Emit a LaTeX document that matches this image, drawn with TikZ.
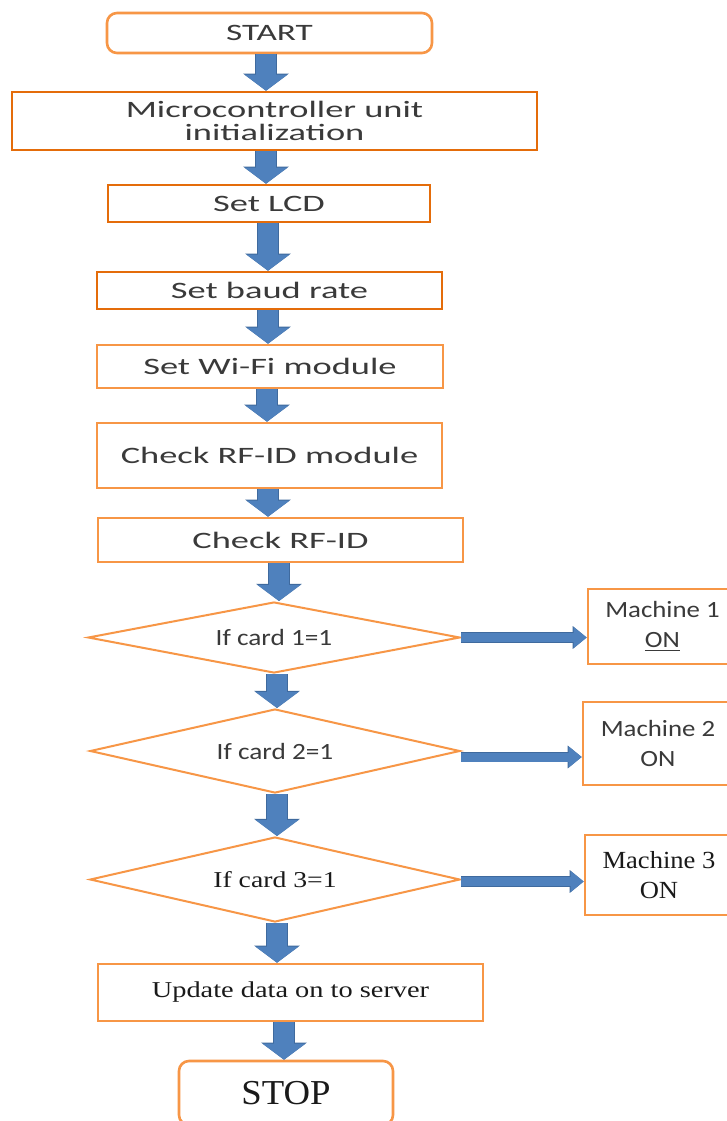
\documentclass[tikz,border=0pt]{standalone}
\usepackage{fontspec}
\usepackage{graphicx}
\setmainfont{Carlito}
\newfontfamily\tms{Liberation Serif}
\usetikzlibrary{shapes.geometric,arrows.meta}
\definecolor{lorange}{HTML}{F79646}
\definecolor{dorange}{HTML}{E46C0A}
\definecolor{ablue}{HTML}{4F81BD}
\definecolor{aline}{HTML}{3F6A9E}
\definecolor{tgray}{HTML}{3A3A3A}
\definecolor{tblack}{HTML}{1A1A1A}
\newcommand{\sx}[2]{\scalebox{#1}[1]{#2}}
\tikzset{
  basebox/.style={rectangle, inner sep=0pt, line width=1.3pt, fill=white, align=center},
  lightbox/.style={basebox, draw=lorange},
  darkbox/.style={basebox, draw=dorange},
  termbox/.style={basebox, draw=lorange, rounded corners=5pt},
  decbox/.style={diamond, draw=lorange, line width=1pt, inner sep=0pt, fill=white},
  bxtext/.style={font=\fontsize{11.75pt}{11.5pt}\selectfont, text=tgray},
  mctext/.style={font=\fontsize{11.65pt}{15pt}\selectfont, text=tgray},
  tmtext/.style={font=\tms\fontsize{11.35pt}{15pt}\selectfont, text=tblack},
  varrow/.style={draw=ablue, line width=10pt, -{Triangle[width=21pt,length=8pt]},
     preaction={draw=aline, line width=10.8pt, -{Triangle[width=22.5pt,length=8.6pt]}}},
  harrow/.style={draw=ablue, line width=4.5pt, -{Triangle[width=10pt,length=6.5pt]},
     preaction={draw=aline, line width=5.2pt, -{Triangle[width=11pt,length=7pt]}}}
}
\begin{document}
\begin{tikzpicture}[x=0.5pt,y=-0.5pt]
\clip (0,0) rectangle (727,1121);
\fill[white] (0,0) rectangle (727,1121);
% nodes
\node[termbox, bxtext, minimum width=162.5pt, minimum height=20pt] (start) at (269.5,33) {\sx{1.5}{START}};
\node[darkbox, bxtext, minimum width=262.5pt, minimum height=29pt] (micro) at (274.5,121) {\sx{1.55}{Microcontroller unit}\\\sx{1.55}{initialization}};
\node[darkbox, bxtext, minimum width=161pt, minimum height=18.5pt] (lcd) at (269,203.5) {\sx{1.55}{Set LCD}};
\node[darkbox, bxtext, minimum width=172.5pt, minimum height=18.5pt] (baud) at (269.5,290.5) {\sx{1.55}{Set baud rate}};
\node[lightbox, bxtext, minimum width=173pt, minimum height=21.5pt] (wifi) at (270,366.5) {\sx{1.55}{Set Wi-Fi module}};
\node[lightbox, bxtext, minimum width=172.5pt, minimum height=32.5pt] (rfmod) at (269.5,455.5) {\sx{1.55}{Check RF-ID module}};
\node[lightbox, bxtext, minimum width=182.5pt, minimum height=22pt] (rfid) at (280.5,540) {\sx{1.55}{Check RF-ID}};
\node[decbox, mctext, aspect=5.3, minimum width=186pt, minimum height=35.5pt] (d1) at (274,637.5) {\sx{1.17}{If card 1=1}};
\node[decbox, mctext, aspect=4.4, minimum width=185pt, minimum height=42pt] (d2) at (275,751) {\sx{1.17}{If card 2=1}};
\node[decbox, tmtext, aspect=4.35, minimum width=185pt, minimum height=42.5pt] (d3) at (275,879.5) {\sx{1.22}{If card 3=1}};
\node[lightbox, mctext, minimum width=74.5pt, minimum height=37.5pt] (m1) at (662.5,626.5) {\sx{1.15}{Machine 1}\\\sx{1.15}{\underline{ON}}};
\node[lightbox, mctext, minimum width=75pt, minimum height=41.5pt] (m2) at (658,743.5) {\sx{1.15}{Machine 2}\\\sx{1.15}{ON}};
\node[lightbox, font=\tms\fontsize{12.3pt}{15pt}\selectfont, text=tblack, minimum width=74pt, minimum height=40pt] (m3) at (659,875) {\sx{1.08}{Machine 3}\\\sx{1.08}{ON}};
\node[lightbox, tmtext, minimum width=192.5pt, minimum height=28.5pt] (upd) at (290.5,992.5) {\sx{1.25}{Update data on to server}};
\node[termbox, font=\tms\fontsize{17.5pt}{18pt}\selectfont, text=tblack, minimum width=107pt, minimum height=32pt] (stop) at (286,1093) {\sx{1.05}{STOP}};
% arrow x positions
\coordinate (xa) at (266,0);
\coordinate (xb) at (268,0);
\coordinate (xc) at (267,0);
\coordinate (xd) at (279,0);
\coordinate (xe) at (277,0);
\coordinate (xf) at (284,0);
% vertical connectors
\draw[varrow] (start.south -| xa) -- (micro.north -| xa);
\draw[varrow] (micro.south -| xa) -- (lcd.north -| xa);
\draw[varrow] (lcd.south -| xb) -- (baud.north -| xb);
\draw[varrow] (baud.south -| xb) -- (wifi.north -| xb);
\draw[varrow] (wifi.south -| xc) -- (rfmod.north -| xc);
\draw[varrow] (rfmod.south -| xb) -- (rfid.north -| xb);
\draw[varrow] (rfid.south -| xd) -- (d1.north -| xd);
\draw[varrow] (d1.south -| xe) -- (d2.north -| xe);
\draw[varrow] (d2.south -| xe) -- (d3.north -| xe);
\draw[varrow] (d3.south -| xe) -- (upd.north -| xe);
\draw[varrow] (upd.south -| xf) -- (stop.north -| xf);
% horizontal connectors
\draw[harrow] (d1.east) -- (d1.east -| m1.west);
\draw[harrow] ([yshift=-3pt]d2.east) -- ([yshift=-3pt]d2.east -| m2.west);
\draw[harrow] ([yshift=-1pt]d3.east) -- ([yshift=-1pt]d3.east -| m3.west);
\end{tikzpicture}
\end{document}
